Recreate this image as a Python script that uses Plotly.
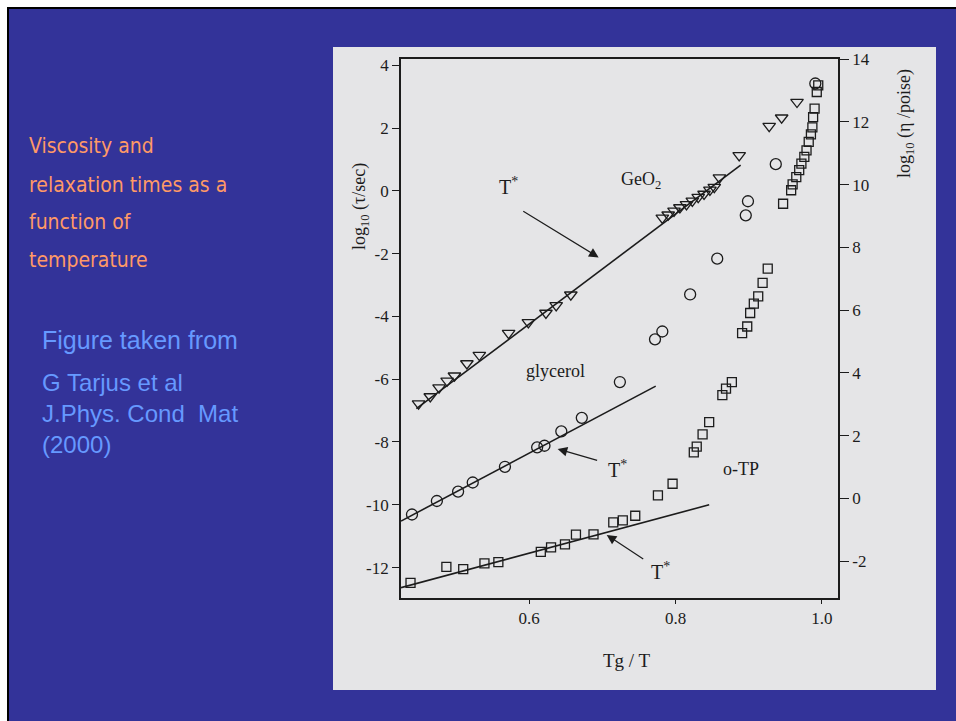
import plotly.graph_objects as go

W, H = 956, 721

# ---- data: Tg/T and log10(tau/sec) ----
geo2_x = [0.449, 0.465, 0.477, 0.488, 0.498, 0.515, 0.532, 0.572, 0.599, 0.623, 0.637, 0.657,
          0.782, 0.790, 0.798, 0.806, 0.815, 0.823, 0.831, 0.839, 0.847, 0.853, 0.860,
          0.887, 0.928, 0.945, 0.966]
geo2_y = [-6.78, -6.55, -6.27, -6.05, -5.89, -5.50, -5.23, -4.53, -4.19, -3.89, -3.65, -3.31,
          -0.86, -0.76, -0.64, -0.53, -0.43, -0.32, -0.20, -0.10, 0.03, 0.12, 0.42,
          1.13, 2.06, 2.33, 2.83]

glyc_x = [0.440, 0.474, 0.503, 0.523, 0.567, 0.611, 0.621, 0.644, 0.672, 0.724, 0.772, 0.782,
          0.820, 0.857, 0.896, 0.899, 0.937, 0.991]
glyc_y = [-10.31, -9.88, -9.58, -9.29, -8.79, -8.17, -8.12, -7.66, -7.23, -6.09, -4.73, -4.48,
          -3.30, -2.16, -0.78, -0.33, 0.85, 3.42]

otp_x = [0.438, 0.487, 0.510, 0.539, 0.558, 0.616, 0.630, 0.649, 0.664, 0.688, 0.715, 0.728, 0.745,
         0.776, 0.796, 0.825, 0.829, 0.837, 0.846, 0.864, 0.869, 0.877, 0.891, 0.898, 0.902, 0.907,
         0.913, 0.919, 0.926, 0.947, 0.958, 0.960, 0.965, 0.969, 0.972, 0.976, 0.979, 0.982, 0.985,
         0.987, 0.988, 0.990, 0.993, 0.995]
otp_y = [-12.49, -11.98, -12.05, -11.87, -11.83, -11.50, -11.36, -11.26, -10.95, -10.94, -10.56,
         -10.50, -10.35, -9.70, -9.33, -8.33, -8.15, -7.76, -7.37, -6.51, -6.30, -6.09, -4.53,
         -4.32, -3.89, -3.59, -3.36, -2.93, -2.48, -0.41, 0.02, 0.21, 0.44, 0.66, 0.87, 1.08,
         1.29, 1.56, 1.80, 2.02, 2.35, 2.62, 3.15, 3.36]

# high-temperature Arrhenius fits (end points)
geo2_fit_x = [0.446, 0.889]
geo2_fit_y = [-6.94, 0.82]
glyc_fit_x = [0.425, 0.773]
glyc_fit_y = [-10.52, -6.22]
otp_fit_x = [0.425, 0.846]
otp_fit_y = [-12.64, -10.0]

left_ticks = [-12, -10, -8, -6, -4, -2, 0, 2, 4]
left_ticklabels = ["-12", "-10", "-8", "-6", "-4", "-2", "0", "2", "4"]
right_ticks = [-2, 0, 2, 4, 6, 8, 10, 12, 14]
right_ticklabels = ["-2", "0", "2", "4", "6", "8", "10", "12", "14"]
x_ticks = [0.6, 0.8, 1.0]
x_ticklabels = ["0.6", "0.8", "1.0"]

X_RANGE = [0.425, 1.022]
Y_RANGE = [-12.97, 4.201]
ETA_OFFSET = 9.8  # log10(eta/poise) - log10(tau/sec)

INK = "#1c1c1c"
SERIF = "Liberation Serif, Times New Roman, serif"
SLIDE_BLUE = "#333399"
PANEL = "#e5e5e7"

fig = go.Figure()

for fx, fy in [(geo2_fit_x, geo2_fit_y), (glyc_fit_x, glyc_fit_y), (otp_fit_x, otp_fit_y)]:
    fig.add_trace(go.Scatter(x=fx, y=fy, mode="lines", line=dict(color=INK, width=1.6),
                             hoverinfo="skip", showlegend=False))

marker_line = dict(color=INK, width=1.3)
fig.add_trace(go.Scatter(x=geo2_x, y=geo2_y, mode="markers", name="GeO2", showlegend=False,
                         marker=dict(symbol="triangle-down-open", size=11, color=INK, line=marker_line)))
fig.add_trace(go.Scatter(x=glyc_x, y=glyc_y, mode="markers", name="glycerol", showlegend=False,
                         marker=dict(symbol="circle-open", size=11, color=INK, line=marker_line)))
fig.add_trace(go.Scatter(x=otp_x, y=otp_y, mode="markers", name="o-TP", showlegend=False,
                         marker=dict(symbol="square-open", size=9, color=INK, line=marker_line)))

# viscosity axis carrier
fig.add_trace(go.Scatter(x=[X_RANGE[0]], y=[Y_RANGE[0] + ETA_OFFSET], yaxis="y2", mode="markers",
                         marker=dict(opacity=0), hoverinfo="skip", showlegend=False))

x0, x1 = 401 / W, 838 / W
y0, y1 = 1 - 598 / H, 1 - 59 / H

tickfont = dict(family=SERIF, size=17, color=INK)
fig.update_layout(
    template="none",
    width=W, height=H,
    margin=dict(l=0, r=0, t=0, b=0, pad=0),
    paper_bgcolor="white",
    plot_bgcolor=PANEL,
    showlegend=False,
    xaxis=dict(domain=[x0, x1], range=X_RANGE, tickvals=x_ticks, ticktext=x_ticklabels,
               showgrid=False, zeroline=False, showline=True, linecolor=INK, linewidth=1.8,
               mirror=True, ticks="outside", ticklen=4, tickcolor=INK, tickfont=tickfont,
               automargin=False),
    yaxis=dict(domain=[y0, y1], range=Y_RANGE, tickvals=left_ticks, ticktext=left_ticklabels,
               showgrid=False, zeroline=False, showline=True, linecolor=INK, linewidth=1.8,
               ticks="outside", ticklen=7, tickcolor=INK, tickfont=tickfont, automargin=False),
    yaxis2=dict(overlaying="y", side="right", range=[Y_RANGE[0] + ETA_OFFSET, Y_RANGE[1] + ETA_OFFSET],
                tickvals=right_ticks, ticktext=right_ticklabels, showgrid=False, zeroline=False,
                showline=True, linecolor=INK, linewidth=1.8, ticks="outside", ticklen=9,
                tickcolor=INK, tickfont=tickfont, automargin=False),
)

# slide background, border and the scanned panel
shapes = [
    dict(type="rect", xref="paper", yref="paper", x0=7 / W, x1=1.0, y0=0, y1=1 - 7 / H,
         fillcolor="black", line=dict(width=0), layer="below"),
    dict(type="rect", xref="paper", yref="paper", x0=9 / W, x1=1.0, y0=0, y1=1 - 9 / H,
         fillcolor=SLIDE_BLUE, line=dict(width=0), layer="below"),
    dict(type="rect", xref="paper", yref="paper", x0=333 / W, x1=936 / W, y0=1 - 690 / H, y1=1 - 47 / H,
         fillcolor=PANEL, line=dict(width=0), layer="below"),
]
fig.update_layout(shapes=shapes)

ann = []
def label(x, y, text, size=17):
    ann.append(dict(x=x, y=y, xref="x", yref="y", text=text, showarrow=False,
                    xanchor="center", yanchor="middle",
                    font=dict(family=SERIF, size=size, color=INK)))

def arrow(head, tail):
    ann.append(dict(x=head[0], y=head[1], ax=tail[0], ay=tail[1], xref="x", yref="y",
                    axref="x", ayref="y", text="", showarrow=True, arrowhead=2,
                    arrowsize=1.6, arrowwidth=1.2, arrowcolor=INK))

def page_text(px, py, text, font, xanchor="center", angle=0, align="center"):
    ann.append(dict(x=px / W, y=1 - py / H, xref="paper", yref="paper", text=text,
                    xanchor=xanchor, yanchor="middle", textangle=angle, showarrow=False,
                    align=align, font=font))

label(0.753, 0.33, "GeO<sub>2</sub>", size=18)
label(0.636, -5.73, "glycerol", size=18)
label(0.889, -8.87, "o-TP", size=18)
label(0.572, 0.15, "T<sup>*</sup>", size=20)
label(0.721, -8.85, "T<sup>*</sup>", size=20)
label(0.780, -12.10, "T<sup>*</sup>", size=20)
arrow((0.695, -2.12), (0.590, -0.62))
arrow((0.639, -8.22), (0.695, -8.60))
arrow((0.706, -10.96), (0.758, -11.76))

# axis titles
page_text(360, 207, "log<sub>10</sub> (τ/sec)", dict(family=SERIF, size=18, color=INK), angle=-90)
page_text(905, 124, "log<sub>10</sub> (η /poise)", dict(family=SERIF, size=18, color=INK), angle=-90)
page_text(627, 660, "Tg / T", dict(family=SERIF, size=19, color=INK))

# slide text
title_font = dict(family="Liberation Sans Narrow, DejaVu Sans Condensed, sans-serif",
                  size=21, color="#ff9966")
title_lines = ["Viscosity and", "relaxation times as a", "function of", "temperature"]
title_y = [146, 185, 222, 260]
for t, py in zip(title_lines, title_y):
    page_text(27, py, t, title_font, xanchor="left", align="left")

ref_font = dict(family="Liberation Sans, Arial, sans-serif", size=25, color="#6699ff")
page_text(40, 340, "Figure taken from", ref_font, xanchor="left", align="left")
ref_lines = ["G Tarjus et al", "J.Phys. Cond  Mat", "(2000)"]
ref_font_small = dict(family="Liberation Sans, Arial, sans-serif", size=24, color="#6699ff")
page_text(40, 413, "<br>".join(ref_lines), ref_font_small, xanchor="left", align="left")

fig.update_layout(annotations=ann)
fig.write_html("out.html")
